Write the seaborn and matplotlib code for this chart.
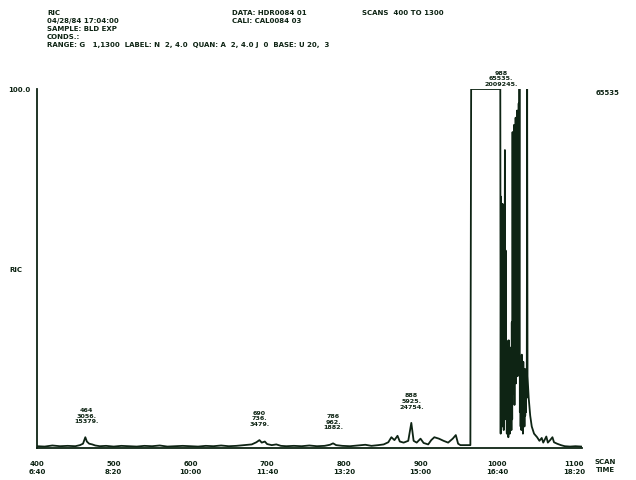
import matplotlib
matplotlib.use("Agg")
import matplotlib.pyplot as plt
import seaborn as sns
import pandas as pd

sns.set_theme(style="white")
plt.rcParams['font.family'] = ['DejaVu Sans']

INK = '#0e2414'

# ---- data (scan number, RIC %) ----
scans = [400, 410, 420, 430, 440, 450, 456, 460, 463, 465, 468, 472, 476, 482, 490,
         500, 510, 520, 530, 540, 550, 560, 570, 580, 590, 600, 610, 620, 630, 640,
         650, 660, 670, 680, 686, 690, 693, 697, 700, 706, 712, 718, 725, 735, 745,
         755, 765, 775, 782, 786, 790, 798, 808, 818, 828, 836, 845, 852, 858, 862,
         866, 870, 873, 878, 884, 888, 891, 895, 900, 904, 910, 914, 918, 924, 930,
         936, 942, 946, 949, 952, 958, 965, 966, 1004,
         1004.5, 1005, 1005.5, 1006, 1006.5, 1007, 1007.5, 1008, 1008.5, 1009, 1009.5,
         1010, 1010.5, 1011, 1011.5, 1012, 1012.5, 1013, 1013.5, 1014, 1014.5, 1015,
         1015.5, 1016, 1016.5, 1017, 1017.5, 1018, 1018.5, 1019, 1019.5, 1020, 1020.5,
         1021, 1021.5, 1022, 1022.5, 1023, 1023.5, 1024, 1024.5, 1025, 1025.5, 1026,
         1026.5, 1027, 1027.5, 1028, 1028.5, 1029, 1029.5, 1030, 1030.5, 1031, 1031.5,
         1032, 1032.5, 1033, 1033.5, 1034, 1034.5, 1035, 1035.5, 1036, 1036.5, 1037,
         1037.5, 1038, 1038.5, 1039, 1039.5, 1040, 1041, 1043,
         1045, 1048, 1052, 1055, 1058, 1060, 1064, 1066, 1069, 1072, 1074, 1078, 1083,
         1088, 1095, 1102, 1110]
ric = [0.5, 0.4, 0.7, 0.5, 0.6, 0.5, 0.8, 1.2, 3.0, 1.8, 1.2, 1.0, 0.7, 0.5, 0.6,
       0.4, 0.6, 0.5, 0.4, 0.6, 0.5, 0.7, 0.4, 0.5, 0.6, 0.5, 0.4, 0.6, 0.5, 0.7,
       0.5, 0.6, 0.8, 1.0, 1.6, 2.2, 1.5, 1.8, 1.1, 0.8, 1.0, 0.6, 0.5, 0.6, 0.5,
       0.7, 0.5, 0.6, 0.9, 1.3, 0.8, 0.6, 0.5, 0.7, 0.9, 0.6, 0.8, 1.0, 1.6, 3.0,
       2.2, 3.4, 1.8, 1.5, 2.0, 7.0, 2.0, 1.5, 2.6, 1.4, 1.0, 2.2, 3.0, 2.6, 2.0,
       1.5, 2.6, 3.6, 1.2, 0.8, 0.8, 0.8, 100, 100,
       4, 70, 10, 64, 6, 68, 12, 62, 5, 66, 15,
       83, 8, 55, 10, 30, 4, 28, 6, 25, 3, 30,
       5, 26, 4, 22, 6, 28, 5, 35, 8, 88, 15,
       80, 20, 90, 12, 85, 25, 92, 18, 86, 30, 94,
       20, 88, 28, 96, 35, 100, 10, 24, 6, 22, 5,
       26, 7, 20, 4, 24, 8, 18, 6, 22, 9, 20,
       10, 22, 14, 100, 20, 18, 14, 9,
       6, 4, 3, 2, 2.8, 1.5, 3.2, 1.5, 2.2, 3.0, 1.6, 1.2, 0.8,
       0.5, 0.4, 0.5, 0.4]

peak_scans = [464, 690, 786, 888, 1005]
peak_heights = [3.0, 2.2, 1.3, 7.0, 100]
peak_labels = ["464\n3056.\n15379.", "690\n736.\n3479.", "786\n962.\n1882.",
               "888\n5925.\n24754.", "988\n65535.\n2009245."]

tick_scans = [400, 500, 600, 700, 800, 900, 1000, 1100]
tick_times = ["6:40", "8:20", "10:00", "11:40", "13:20", "15:00", "16:40", "18:20"]

header_left = ["RIC", "04/28/84 17:04:00", "SAMPLE: BLD EXP", "CONDS.:",
               "RANGE: G   1,1300  LABEL: N  2, 4.0  QUAN: A  2, 4.0 J  0  BASE: U 20,  3"]
header_mid = ["DATA: HDR0084 01", "CALI: CAL0084 03"]
header_right = "SCANS  400 TO 1300"

df = pd.DataFrame({"scan": scans, "ric": ric})

fig = plt.figure(figsize=(6.36, 4.81), dpi=100)
W, H = 636, 481
x0, x1 = 37, 581.6
y0, y1 = 449, 90
ax = fig.add_axes([x0 / W, 1 - y0 / H, (x1 - x0) / W, (y0 - y1) / H])

sns.lineplot(data=df, x="scan", y="ric", ax=ax, color=INK, linewidth=1.3,
             sort=False, estimator=None)

ax.set_xlim(400, 1110)
ax.set_ylim(0, 100)
ax.set_xlabel("")
ax.set_ylabel("")
for s in ["top", "right"]:
    ax.spines[s].set_visible(False)
for s in ["left", "bottom"]:
    ax.spines[s].set_color(INK)
    ax.spines[s].set_linewidth(1.3)

fs = 5.0
ax.set_xticks(tick_scans)
ax.set_xticklabels([f"{s}\n{t}" for s, t in zip(tick_scans, tick_times)],
                   fontsize=fs, fontweight='bold', color=INK, linespacing=1.3)
ax.tick_params(axis='x', direction='out', length=3, width=1, color=INK, pad=6)
ax.set_yticks([25, 50, 75, 100])
ax.set_yticklabels(["", "", "", "100.0"], fontsize=fs, fontweight='bold', color=INK)
ax.tick_params(axis='y', direction='out', length=3, width=1, color=INK, pad=2)
ax.grid(False)

ax.text(-0.05, 0.5, "RIC", transform=ax.transAxes, fontsize=fs, fontweight='bold',
        color=INK, ha='left', va='center')

for sc, ht, lab in zip(peak_scans, peak_heights, peak_labels):
    ax.annotate(lab, xy=(sc, ht), xytext=(0, 10 if ht < 90 else 2),
                textcoords='offset points', ha='center', va='bottom',
                fontsize=4.6, fontweight='bold', color=INK, linespacing=1.2,
                annotation_clip=False)

# header
for i, t in enumerate(header_left):
    fig.text(47 / W, 1 - (13 + 8 * i) / H, t, fontsize=fs, fontweight='bold',
             color=INK, ha='left', va='center')
for i, t in enumerate(header_mid):
    fig.text(232 / W, 1 - (13 + 8 * i) / H, t, fontsize=fs, fontweight='bold',
             color=INK, ha='left', va='center')
fig.text(362 / W, 1 - 13 / H, header_right, fontsize=fs, fontweight='bold',
         color=INK, ha='left', va='center')
fig.text(608 / W, 1 - 93 / H, "65535", fontsize=fs, fontweight='bold',
         color=INK, ha='center', va='center')
fig.text(605 / W, 1 - 466 / H, "SCAN\nTIME", fontsize=fs, fontweight='bold',
         color=INK, ha='center', va='center', linespacing=1.3)

fig.savefig("out.png", dpi=100, facecolor='white')
